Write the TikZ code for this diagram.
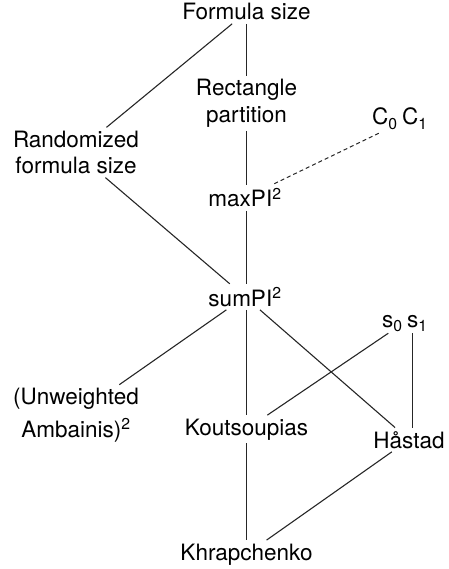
\documentclass[tikz,border=0pt]{standalone}
\usepackage{fontspec}
\setmainfont{TeX Gyre Heros}
\begin{document}
\begin{tikzpicture}[x=1pt,y=-1pt,
  lbl/.style={inner sep=3.5pt,outer sep=0pt,font=\fontsize{22.5}{26.5}\selectfont},
  ml/.style={lbl,align=center},
  edge/.style={line width=1.1pt,draw=black!85},
  dedge/.style={edge,line width=1pt,dash pattern=on 4pt off 3pt}]
\useasboundingbox (0,0) rectangle (448,569);
\node[lbl,anchor=base] (fs) at (246.5,20) {Formula size};
\node[ml] (rect) at (246.5,103.5) {Rectangle\\partition};
\node[ml] (rand) at (76,152.5) {Randomized\\formula size};
\node[lbl,anchor=base west,inner sep=1pt] (c0) at (371,125) {C\textsubscript{0}};
\node[lbl,anchor=base west,inner sep=1pt] (c1) at (401,125) {C\textsubscript{1}};
\node[lbl,anchor=base] (maxpi) at (245,207) {maxPI\textsuperscript{2}};
\node[lbl,anchor=base] (sumpi) at (245,306) {sumPI\textsuperscript{2}};
\node[lbl,anchor=base west,inner sep=1pt] (s0) at (381,327) {s\textsubscript{0}};
\node[lbl,anchor=base west,inner sep=1pt] (s1) at (406,327) {s\textsubscript{1}};
\node[lbl,align=center] (unw) at (76,415) {(Unweighted\\[6pt]Ambainis)\textsuperscript{2}};
\node[lbl,anchor=base] (kout) at (246.5,435) {Koutsoupias};
\node[lbl,anchor=base] (hast) at (409,448) {Håstad};
\node[lbl,anchor=base] (khr) at (246.5,560) {Khrapchenko};
\draw[edge] (fs) -- (rand);
\draw[edge] (fs.south) -- (rect.north);
\draw[edge] (rect.south) -- (rect.south |- maxpi.north);
\draw[dedge] ([xshift=-6pt,yshift=-3pt]c0.south) -- (maxpi);
\draw[edge] (rand) -- (sumpi);
\draw[edge] (rect.south |- maxpi.south) -- (rect.south |- sumpi.north);
\draw[edge] (sumpi) -- (unw);
\draw[edge] (rect.south |- sumpi.south) -- (rect.south |- kout.north);
\draw[edge] (sumpi) -- (hast);
\draw[edge] ([xshift=-4pt,yshift=-1pt]s0.south) -- (kout);
\draw[edge] ([xshift=-5pt,yshift=-1pt]s1.south) -- ([xshift=-5pt]s1.south |- hast.north);
\draw[edge] (kout.south) -- (khr.north);
\draw[edge] (hast) -- (khr);
\end{tikzpicture}
\end{document}
